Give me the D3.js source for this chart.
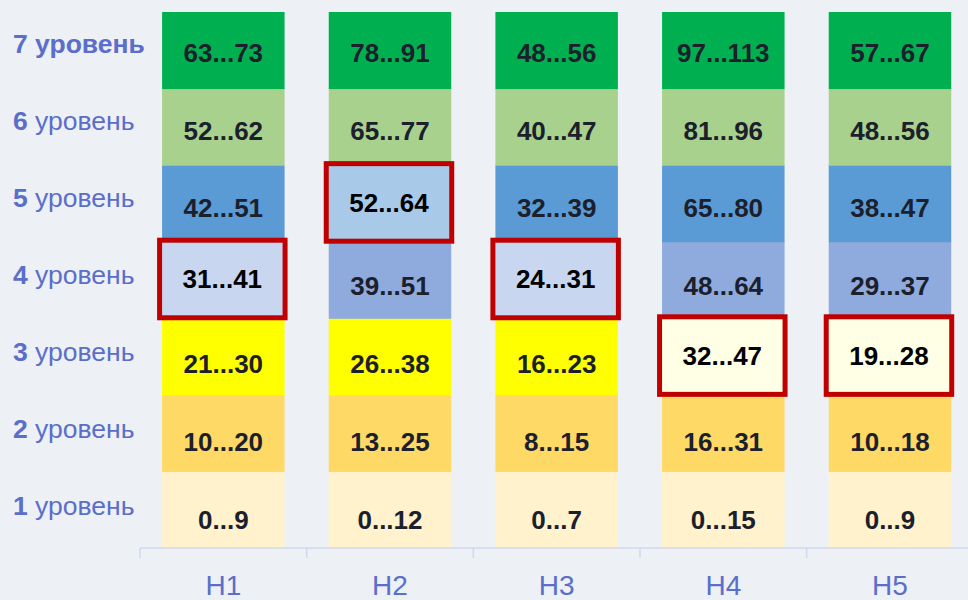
<!DOCTYPE html>
<html>
<head>
<meta charset="utf-8">
<script src="https://cdn.jsdelivr.net/npm/d3@7"></script>
<style>
  html, body { margin: 0; padding: 0; background: #edf0f5; }
  svg { display: block; font-family: "Liberation Sans", Arial, sans-serif; }
</style>
</head>
<body>
<svg id="chart" width="968" height="600"></svg>
<script>
// ---- data ----
var categories = ["H1", "H2", "H3", "H4", "H5"];
var levels = [1, 2, 3, 4, 5, 6, 7];
var levelWord = "уровень";

// lower / upper bound of each level, per category (level 1 .. 7)
var levelMin = [
  [0, 10, 21, 31, 42, 52, 63],
  [0, 13, 26, 39, 52, 65, 78],
  [0, 8, 16, 24, 32, 40, 48],
  [0, 16, 32, 48, 65, 81, 97],
  [0, 10, 19, 29, 38, 48, 57]
];
var levelMax = [
  [9, 20, 30, 41, 51, 62, 73],
  [12, 25, 38, 51, 64, 77, 91],
  [7, 15, 23, 31, 39, 47, 56],
  [15, 31, 47, 64, 80, 96, 113],
  [9, 18, 28, 37, 47, 56, 67]
];
// level marked with the red frame
var currentLevel = [4, 5, 4, 3, 3];

// ---- colours ----
var LEVEL_COLOR = ["#fff2cc", "#ffd966", "#ffff00", "#8faadc", "#5b9bd5", "#a9d18e", "#00b050"];
var LEVEL_COLOR_HI = ["#fffde6", "#ffeebb", "#ffffe6", "#c8d6ef", "#a9c9e8", "#d4e8c6", "#b0e6c4"];
var COLOR_LABEL = "#5a6eca";
var COLOR_AXIS = "#d2d8ee";
var COLOR_TEXT = "#1b202c";
var COLOR_FRAME = "#c00000";

var svg = d3.select("#chart");

// ---- scales ----
var x = d3.scaleBand().domain(categories).range([140, 973.3]).paddingInner(0.265).paddingOuter(0.1325);
var xBand = d3.scaleBand().domain(categories).range([140, 973.3]);
var y = d3.scaleBand().domain(levels.slice().reverse()).range([12, 548]);
// text rows drift slightly from the cell centres
var yText = d3.scalePoint().domain(levels.slice().reverse()).range([52.5, 519.2]);
var yLabel = d3.scalePoint().domain(levels.slice().reverse()).range([43.3, 505.8]);

// ---- cells ----
var cells = [];
categories.forEach(function(c, i){
  levels.forEach(function(l, j){
    cells.push({cat: c, level: l, min: levelMin[i][j], max: levelMax[i][j], hi: currentLevel[i] == l});
  });
});

var gCells = svg.append("g").attr("id", "cells");

gCells.selectAll("rect.cell")
  .data(cells)
  .enter().append("rect")
  .attr("class", "cell")
  .attr("x", function(d){ return x(d.cat); })
  .attr("y", function(d){ return y(d.level); })
  .attr("width", x.bandwidth())
  .attr("height", y.bandwidth() + 0.5)
  .style("fill", function(d){ return LEVEL_COLOR[d.level - 1]; });

gCells.selectAll("text.cellText")
  .data(cells.filter(function(d){ return !d.hi; }))
  .enter().append("text")
  .attr("class", "cellText")
  .text(function(d){ return d.min + "..." + d.max; })
  .attr("x", function(d){ return x(d.cat) + x.bandwidth() / 2; })
  .attr("y", function(d){ return yText(d.level); })
  .attr("dy", "0.36em")
  .style("text-anchor", "middle")
  .style("font-size", "26px")
  .style("font-weight", "bold")
  .style("fill", COLOR_TEXT);

// ---- highlighted (current) level ----
var _frame = 5;
var hiCells = cells.filter(function(d){ return d.hi; });
var gHi = svg.append("g").attr("id", "current");

gHi.selectAll("rect")
  .data(hiCells)
  .enter().append("rect")
  .attr("x", function(d){ return x(d.cat) - 5 + _frame / 2; })
  .attr("y", function(d){ return y(d.level) - 4 + _frame / 2; })
  .attr("width", x.bandwidth() + 8 - _frame)
  .attr("height", y.bandwidth() + 6 - _frame)
  .style("fill", function(d){ return LEVEL_COLOR_HI[d.level - 1]; })
  .style("stroke", COLOR_FRAME)
  .style("stroke-width", _frame);

gHi.selectAll("text")
  .data(hiCells)
  .enter().append("text")
  .text(function(d){ return d.min + "..." + d.max; })
  .attr("x", function(d){ return x(d.cat) - 1 + x.bandwidth() / 2; })
  .attr("y", function(d){ return y(d.level) + y.bandwidth() / 2 - 1; })
  .attr("dy", "0.36em")
  .style("text-anchor", "middle")
  .style("font-size", "26px")
  .style("font-weight", "bold")
  .style("fill", "#000");

// ---- x axis ----
var gAxis = svg.append("g").attr("id", "xaxis");
gAxis.append("line")
  .attr("x1", xBand.range()[0]).attr("x2", xBand.range()[1])
  .attr("y1", 548).attr("y2", 548)
  .style("stroke", COLOR_AXIS).style("stroke-width", 1.5);

var tickPos = categories.map(function(c){ return xBand(c); }).concat([xBand.range()[1]]);
gAxis.selectAll("line.tick")
  .data(tickPos)
  .enter().append("line")
  .attr("class", "tick")
  .attr("x1", function(d){ return d; }).attr("x2", function(d){ return d; })
  .attr("y1", 548).attr("y2", 558)
  .style("stroke", COLOR_AXIS).style("stroke-width", 1.5);

gAxis.selectAll("text")
  .data(categories)
  .enter().append("text")
  .text(function(d){ return d; })
  .attr("x", function(d){ return xBand(d) + xBand.bandwidth() / 2; })
  .attr("y", 595)
  .style("text-anchor", "middle")
  .style("font-size", "28px")
  .style("fill", COLOR_LABEL);

// ---- level labels ----
var gLabels = svg.append("g").attr("id", "levels");
var lbl = gLabels.selectAll("text")
  .data(levels)
  .enter().append("text")
  .attr("x", 13)
  .attr("y", function(d){ return yLabel(d); })
  .attr("dy", "0.36em")
  .style("font-size", "26.5px")
  .style("fill", COLOR_LABEL);

lbl.append("tspan")
  .text(function(d){ return d + " "; })
  .style("font-weight", "bold");
lbl.append("tspan")
  .text(levelWord)
  .style("font-weight", function(d){ return d == 7 ? "bold" : "normal"; });
</script>
</body>
</html>
